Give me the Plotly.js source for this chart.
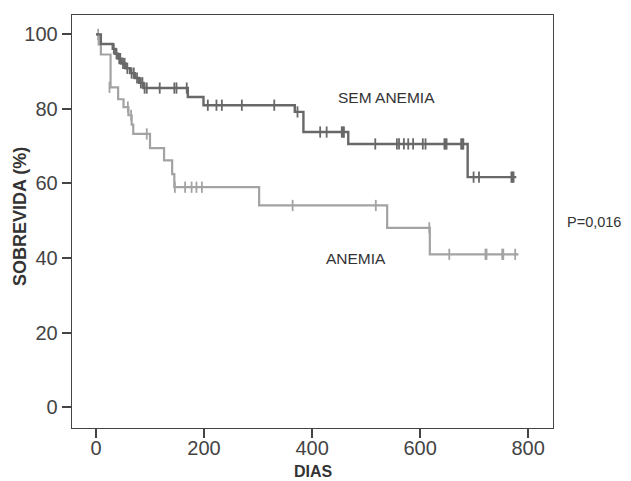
<!DOCTYPE html>
<html>
<head>
<meta charset="utf-8">
<script src="https://cdn.plot.ly/plotly-3.0.1.min.js"></script>
<style>html,body{margin:0;padding:0;background:#fff;}</style>
</head>
<body>
<div id="chart" style="width:631px;height:481px;"></div>
<script>
// SEM ANEMIA (dark) step curve
const semTimes = [0, 9, 31, 36, 41, 47, 55, 63, 72, 80, 88, 170, 199, 368, 384, 467, 688, 778];
const semSurv  = [100, 97.4, 96.1, 94.8, 93.5, 92.2, 90.9, 89.6, 88.3, 87.0, 85.6, 83.2, 81.0, 79.2, 73.8, 70.6, 61.7, 61.7];
const semCensT = [33, 38, 43, 45, 50, 53, 58, 66, 70, 76, 83, 86, 90, 94,
                  118, 145, 149, 168,
                  207, 223, 233, 270, 330,
                  373,
                  415, 427, 455, 457, 459,
                  517, 557, 561, 570, 578, 587, 605, 610, 645, 647, 649, 676, 678, 680,
                  699, 709, 769, 771, 773];
const semCensS = [96.1, 94.8, 93.5, 93.5, 92.2, 92.2, 90.9, 89.6, 89.6, 88.3, 87.0, 87.0, 85.6, 85.6,
                  85.6, 85.6, 85.6, 85.6,
                  81.0, 81.0, 81.0, 81.0, 81.0,
                  79.2,
                  73.8, 73.8, 73.8, 73.8, 73.8,
                  70.6, 70.6, 70.6, 70.6, 70.6, 70.6, 70.6, 70.6, 70.6, 70.6, 70.6, 70.6, 70.6, 70.6,
                  61.7, 61.7, 61.7, 61.7, 61.7];

// ANEMIA (light) step curve
const anTimes = [0, 5, 9, 27, 41, 51, 60, 66, 69, 100, 126, 141, 145, 302, 539, 618, 782];
const anSurv  = [100, 97.3, 94.6, 85.8, 82.6, 80.5, 78.3, 75.8, 73.3, 69.5, 66.2, 62.5, 59.0, 54.1, 48.1, 41.0, 41.0];
const anCensT = [4, 25, 59, 65, 94, 146, 165, 177, 186, 196, 364, 518, 617, 654, 721, 723, 752, 754, 776];
const anCensS = [100, 85.8, 80.5, 78.3, 73.3, 59.0, 59.0, 59.0, 59.0, 59.0, 54.1, 54.1, 48.1, 41.0, 41.0, 41.0, 41.0, 41.0, 41.0];

const xTicks = [0, 200, 400, 600, 800];
const yTicks = [0, 20, 40, 60, 80, 100];

const darkC = '#686868';
const lightC = '#a3a3a3';
const FONT = 'Liberation Sans, Arial, sans-serif';

const traces = [
  {x: anTimes, y: anSurv, mode: 'lines', line: {shape: 'hv', color: lightC, width: 2.2}, hoverinfo: 'skip'},
  {x: anCensT, y: anCensS, mode: 'markers', marker: {symbol: 'line-ns', size: 8, line: {color: lightC, width: 1.8}}, hoverinfo: 'skip'},
  {x: semTimes, y: semSurv, mode: 'lines', line: {shape: 'hv', color: darkC, width: 2.4}, hoverinfo: 'skip'},
  {x: semCensT, y: semCensS, mode: 'markers', marker: {symbol: 'line-ns', size: 8, line: {color: darkC, width: 1.8}}, hoverinfo: 'skip'}
];

const layout = {
  width: 631, height: 481,
  margin: {l: 72, r: 78, t: 15, b: 53},
  paper_bgcolor: '#fff', plot_bgcolor: '#fff',
  showlegend: false,
  font: {family: FONT, color: '#444'},
  xaxis: {
    range: [-44.4, 846], tickvals: xTicks, ticktext: xTicks.map(String),
    showgrid: false, zeroline: false,
    showline: true, mirror: true, linecolor: '#444', linewidth: 1.3,
    ticks: 'outside', ticklen: 9, tickwidth: 2, tickcolor: '#444',
    ticklabelstandoff: -7,
    tickfont: {size: 20, color: '#444', family: FONT}
  },
  yaxis: {
    range: [-5.6, 105.2], tickvals: yTicks, ticktext: yTicks.map(String),
    showgrid: false, zeroline: false,
    showline: true, mirror: true, linecolor: '#444', linewidth: 1.3,
    ticks: 'outside', ticklen: 9, tickwidth: 2, tickcolor: '#444',
    tickfont: {size: 20, color: '#444', family: FONT}
  },
  annotations: [
    {text: '<b>SOBREVIDA (%)</b>', xref: 'paper', yref: 'paper', x: -0.109, y: 0.512, textangle: -90,
     xanchor: 'center', yanchor: 'middle',
     showarrow: false, font: {size: 18, color: '#333', family: FONT}},
    {text: '<b>DIAS</b>', xref: 'paper', yref: 'paper', x: 0.503, y: -0.1065, xanchor: 'center', yanchor: 'middle',
     showarrow: false, font: {size: 16, color: '#333', family: FONT}},
    {text: 'SEM ANEMIA', xref: 'x', yref: 'y', x: 538, y: 83, showarrow: false,
     font: {size: 15.5, color: '#333', family: FONT}},
    {text: 'ANEMIA', xref: 'x', yref: 'y', x: 481, y: 40, showarrow: false,
     font: {size: 15.5, color: '#333', family: FONT}},
    {text: 'P=0,016', xref: 'paper', yref: 'paper', x: 1.085, y: 0.499, xanchor: 'center', showarrow: false,
     font: {size: 14.5, color: '#333', family: FONT}}
  ]
};

Plotly.newPlot('chart', traces, layout, {displayModeBar: false, staticPlot: true});
</script>
</body>
</html>
